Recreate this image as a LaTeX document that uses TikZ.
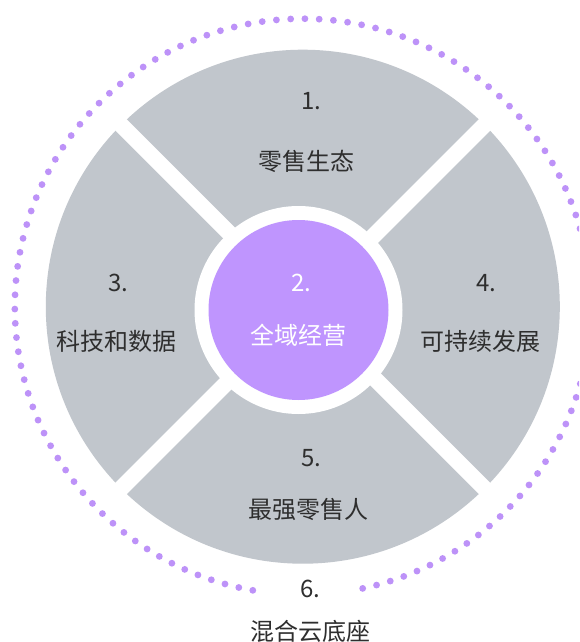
\documentclass[tikz,border=0pt]{standalone}
\usepackage{fontspec}
\newfontfamily\cjk{Noto Sans CJK SC}
\definecolor{segGray}{HTML}{C1C6CC}
\definecolor{hubPurple}{HTML}{BF95FE}
\definecolor{dotPurple}{HTML}{BD92F8}
\definecolor{txtDark}{HTML}{2E2E2E}
\tikzset{
  numlbl/.style={font=\cjk\fontsize{24}{28}\selectfont, text=txtDark, inner sep=0pt},
  namelbl/.style={font=\cjk\fontsize{24}{28}\selectfont, text=txtDark, inner sep=0pt},
  hublbl/.style={font=\cjk\fontsize{24}{28}\selectfont, text=white, inner sep=0pt},
}
\begin{document}
\begin{tikzpicture}[x=1pt,y=-1pt]
\useasboundingbox (0,0) rectangle (579,642);
\clip (0,0) rectangle (579,642);
\fill[white] (0,0) rectangle (579,642);
\coordinate (c) at (302.8,306.7);
\coordinate (h) at (298.5,310);
% gray disk
\fill[segGray] (c) circle (257);
% white separating bands
\draw[white, line width=16pt] (c) ++(-190,-190) -- ++(380,380);
\draw[white, line width=16pt] (c) ++(190,-190) -- ++(-380,380);
% hub
\fill[white] (h) circle (104);
\fill[hubPurple] (h) circle (90);
% dotted ring
\foreach \k in {0,...,119} {
  \fill[dotPurple] (c) ++({100+\k*2.84034}:288) circle (3.4);
}
% labels
\node[numlbl] (n1) at (311,101) {1.};
\node[namelbl] (t1) at (306.5,161) {零售生态};
\node[hublbl] (n2) at (301,283) {2.};
\node[hublbl] (t2) at (298.5,335) {全域经营};
\node[numlbl] (n3) at (118.5,283) {3.};
\node[namelbl] (t3) at (116.7,341) {科技和数据};
\node[numlbl] (n4) at (486,283) {4.};
\node[namelbl] (t4) at (480,341) {可持续发展};
\node[numlbl] (n5) at (311.5,458) {5.};
\node[namelbl] (t5) at (308.8,509) {最强零售人};
\node[numlbl] (n6) at (310,589) {6.};
\node[namelbl] (t6) at (310,631) {混合云底座};
\end{tikzpicture}
\end{document}
